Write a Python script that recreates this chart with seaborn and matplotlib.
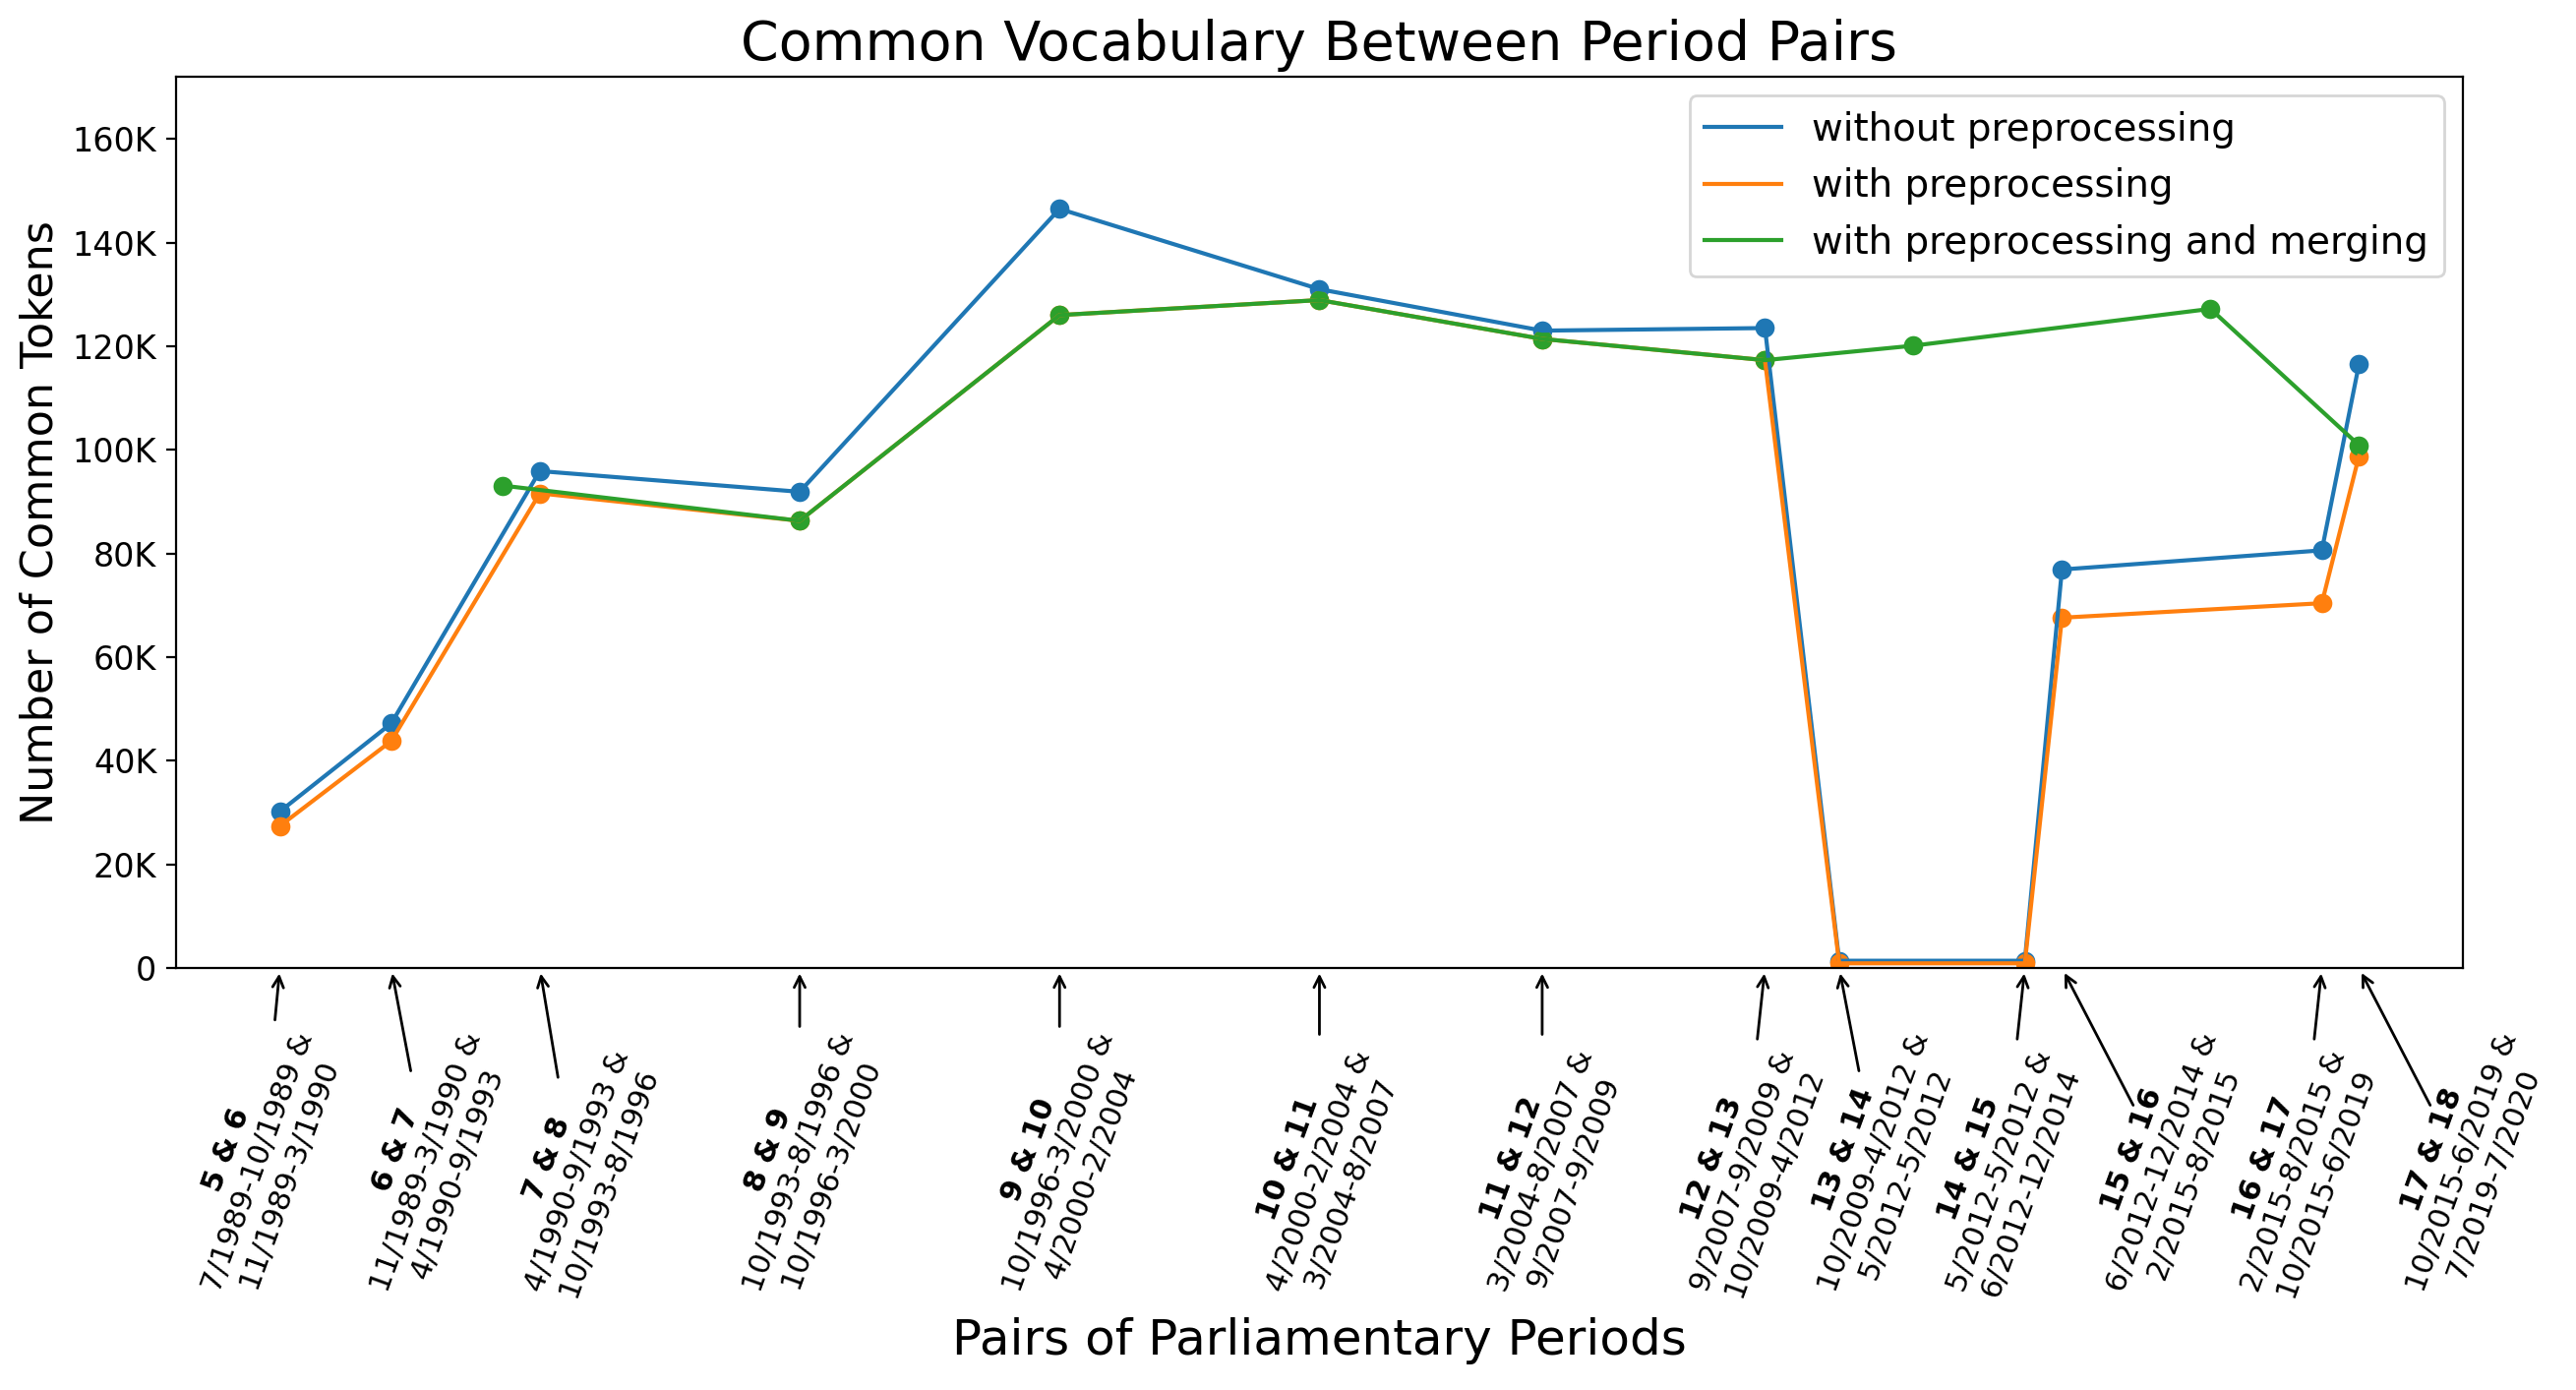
import matplotlib
matplotlib.use("Agg")
import matplotlib.pyplot as plt
import matplotlib.ticker as mticker
from matplotlib.mathtext import MathTextParser
import seaborn as sns

# pares de periodos (posicion = punto medio aproximado, en años)
pair_names = ["5 & 6", "6 & 7", "7 & 8", "8 & 9", "9 & 10", "10 & 11", "11 & 12",
              "12 & 13", "13 & 14", "14 & 15", "15 & 16", "16 & 17", "17 & 18"]
pair_x = [1990.0, 1991.5, 1993.5, 1997.0, 2000.5, 2004.0, 2007.0,
          2010.0, 2011.0, 2013.5, 2014.0, 2017.5, 2018.0]

period_dates = ["7/1989-10/1989", "11/1989-3/1990", "4/1990-9/1993", "10/1993-8/1996",
                "10/1996-3/2000", "4/2000-2/2004", "3/2004-8/2007", "9/2007-9/2009",
                "10/2009-4/2012", "5/2012-5/2012", "6/2012-12/2014", "2/2015-8/2015",
                "10/2015-6/2019", "7/2019-7/2020"]

without_prep = [30200, 47200, 95900, 91900, 146500, 131000, 123000,
                123500, 1400, 1400, 76900, 80600, 116500]
with_prep = [27400, 43800, 91600, 86300, 126000, 128900, 121400,
             117300, 900, 900, 67600, 70400, 98800]

# serie con periodos fusionados (otras posiciones)
merged_x = [1993.0, 1997.0, 2000.5, 2004.0, 2007.0, 2010.0, 2012.0, 2016.0, 2018.0]
with_prep_merged = [93100, 86300, 126000, 128900, 121400, 117300, 120100, 127200, 100900]

# desplazamientos (puntos) de etiquetas y de la cola de cada flecha
label_dx = [-8, 13, 14, 0, 0, 0, 0, -8, 13, -9, 37, -10, 38]
arrow_tail = [(-2, -21), (7.5, -39.6), (7, -42), (0, -23.4), (0, -23.4), (0, -26.3),
              (0, -26.3), (-3, -28), (7.6, -39.6), (-3, -28), (27, -52), (-3, -28),
              (27, -52)]

colors = ["#1f77b4", "#ff7f0e", "#2ca02c"]


def titulo_par(nombre):
    a, b = nombre.split(" & ")
    s = r"$\bf{" + a + r"\ &\ " + b + "}$"
    try:
        MathTextParser("path").parse(s)
        return s
    except ValueError:
        return r"$\bf{" + a + "}$ & $\\bf{" + b + "}$"


fig = plt.figure(figsize=(2619 / 200, 1413 / 200), dpi=200)
ax = fig.add_subplot(111)
fig.subplots_adjust(left=0.0683, right=0.9561, top=0.9448, bottom=0.3036)

series = [
    (pair_x, without_prep, "without preprocessing"),
    (pair_x, with_prep, "with preprocessing"),
    (merged_x, with_prep_merged, "with preprocessing and merging"),
]
for (xs, ys, nombre), c in zip(series, colors):
    sns.lineplot(x=xs, y=ys, color=c, linewidth=1.5, label=nombre, ax=ax)
    sns.scatterplot(x=xs, y=ys, color=c, s=50, linewidth=0, ax=ax)

ax.set_ylim(0, 172000)
ax.yaxis.set_major_formatter(
    mticker.FuncFormatter(lambda v, p: "0" if v == 0 else f"{int(v / 1000)}K"))
ax.tick_params(axis="y", labelsize=12)
ax.set_xticks([])

# etiquetas y flechas debajo del eje
for i, (nombre, xv) in enumerate(zip(pair_names, pair_x)):
    texto = titulo_par(nombre) + "\n" + period_dates[i] + " &\n" + period_dates[i + 1]
    ax.annotate(texto, xy=(xv, 0), xytext=(label_dx[i], -124),
                textcoords="offset points", ha="center", va="bottom",
                rotation=70, fontsize=11, annotation_clip=False)
    ax.annotate("", xy=(xv, 0), xytext=arrow_tail[i], textcoords="offset points",
                annotation_clip=False,
                arrowprops=dict(arrowstyle="->", color="black", lw=1.0))

ax.set_title("Common Vocabulary Between Period Pairs", fontsize=20)
ax.set_ylabel("Number of Common Tokens", fontsize=16)
ax.set_xlabel("Pairs of Parliamentary Periods", fontsize=18)
ax.xaxis.set_label_coords(0.5, -0.392)
ax.legend(loc="upper right", fontsize=14)

fig.savefig("out.png", dpi=200)
